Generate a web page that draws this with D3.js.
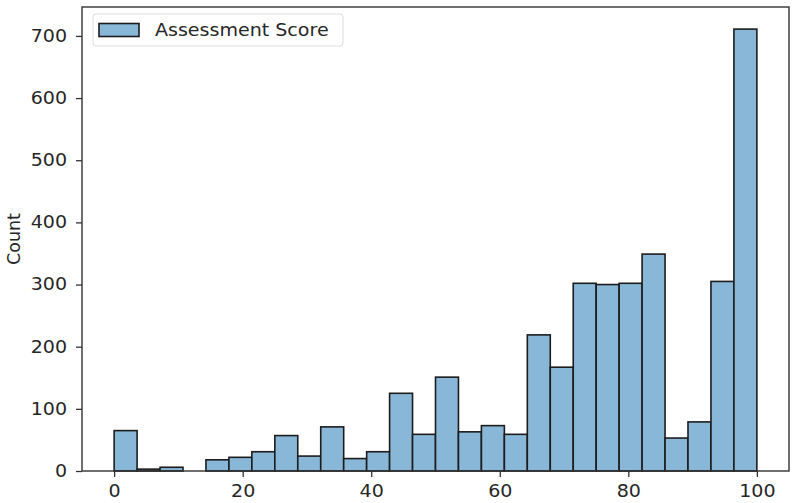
<!DOCTYPE html>
<html lang="en">

<head>
  <meta charset="UTF-8">
  <title>Assessment Score Histogram</title>
  <script src="https://d3js.org/d3.v7.min.js"></script>
  <style>
    body { margin: 0; background: #fff; }
    text { font-family: "DejaVu Sans", sans-serif; }
  </style>
</head>

<body>

  <script>
    // Histogram: 28 equal bins spanning the score range
    const scoreMin = 0;
    const scoreMax = 100;
    const counts = [65, 3, 6, 0, 18, 22, 31, 57, 24, 71, 20, 31, 125, 59,
                    151, 63, 73, 59, 219, 167, 302, 300, 302, 349, 53, 79, 305, 711];
    const xTicks = [0, 20, 40, 60, 80, 100];
    const yTicks = [0, 100, 200, 300, 400, 500, 600, 700];
    const seriesName = 'Assessment Score';

    const width = 795;
    const height = 503;
    const margin = { top: 7, right: 6, bottom: 32, left: 82 };
    const innerW = width - margin.left - margin.right;
    const innerH = height - margin.top - margin.bottom;
    const stretch = 1.12; // text in the reference is a little wider than normal

    const svg = d3.select('body')
      .append('svg')
      .attr('width', width)
      .attr('height', height);

    const g = svg.append('g')
      .attr('transform', `translate(${margin.left},${margin.top})`);

    const binW = (scoreMax - scoreMin) / counts.length;
    const bins = counts.map((c, i) => ({ x0: scoreMin + i * binW, x1: scoreMin + (i + 1) * binW, count: c }));

    // matplotlib-style 5% padding
    const pad = (scoreMax - scoreMin) * 0.05;
    const x = d3.scaleLinear()
      .domain([scoreMin - pad, scoreMax + pad])
      .range([0, innerW]);

    const y = d3.scaleLinear()
      .domain([0, d3.max(counts) * 1.05])
      .range([innerH, 0]);

    // bars
    g.selectAll('rect.bar')
      .data(bins)
      .enter()
      .append('rect')
      .attr('class', 'bar')
      .attr('x', d => x(d.x0))
      .attr('y', d => y(d.count))
      .attr('width', d => x(d.x1) - x(d.x0))
      .attr('height', d => innerH - y(d.count))
      .attr('fill', 'rgb(136,183,216)')
      .attr('stroke', '#1c1c1c')
      .attr('stroke-width', 1.6);

    // axes
    const xAxis = g.append('g')
      .attr('transform', `translate(0,${innerH})`)
      .call(d3.axisBottom(x).tickValues(xTicks).tickSize(6).tickPadding(8));

    const yAxis = g.append('g')
      .call(d3.axisLeft(y).tickValues(yTicks).tickSize(6).tickPadding(9));

    [xAxis, yAxis].forEach(ax => {
      ax.select('.domain').remove();
      ax.selectAll('line').attr('stroke', '#333').attr('stroke-width', 1.3);
      ax.selectAll('text').attr('font-size', 17).attr('fill', '#262626')
        .attr('font-family', '"DejaVu Sans", sans-serif');
    });

    // frame (all four spines)
    g.append('rect')
      .attr('width', innerW)
      .attr('height', innerH)
      .attr('fill', 'none')
      .attr('stroke', '#333')
      .attr('stroke-width', 1.4);

    // y label
    g.append('text')
      .attr('transform', 'rotate(-90)')
      .attr('x', -innerH / 2)
      .attr('y', -margin.left + 20)
      .attr('text-anchor', 'middle')
      .attr('font-size', 17.5)
      .attr('fill', '#262626')
      .text('Count');

    // legend
    const legend = g.append('g').attr('transform', 'translate(11,7)');
    legend.append('rect')
      .attr('width', 250)
      .attr('height', 32)
      .attr('rx', 3)
      .attr('fill', 'rgba(255,255,255,0.8)')
      .attr('stroke', '#dcdcdc');
    legend.append('rect')
      .attr('x', 6)
      .attr('y', 9.5)
      .attr('width', 40)
      .attr('height', 13)
      .attr('fill', 'rgb(136,183,216)')
      .attr('stroke', '#1c1c1c')
      .attr('stroke-width', 1.6);
    legend.append('text')
      .attr('x', 62)
      .attr('y', 16)
      .attr('dy', '0.35em')
      .attr('font-size', 17)
      .attr('fill', '#262626')
      .text(seriesName);

    // widen horizontal text to match the reference
    svg.selectAll('text').each(function () {
      const t = d3.select(this);
      if (t.attr('transform')) return;
      const len = this.getComputedTextLength();
      t.attr('textLength', len * stretch).attr('lengthAdjust', 'spacingAndGlyphs');
    });
  </script>

</body>

</html>
